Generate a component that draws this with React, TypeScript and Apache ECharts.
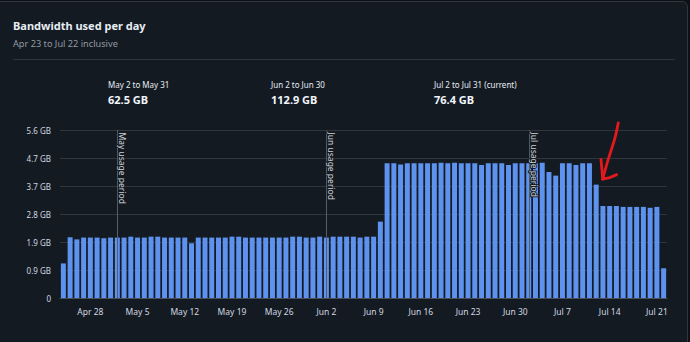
import React, { useEffect, useRef } from "react";
import * as echarts from "echarts";

// ---------- data ----------
const TITLE = "Bandwidth used per day";
const SUBTITLE = "Apr 23 to Jul 22 inclusive";
const periodLabels = ["May 2 to May 31", "Jun 2 to Jun 30", "Jul 2 to Jul 31 (current)"];
const periodTotals = ["62.5 GB", "112.9 GB", "76.4 GB"];

const MONTHS = ["Jan", "Feb", "Mar", "Apr", "May", "Jun", "Jul", "Aug", "Sep", "Oct", "Nov", "Dec"];
const firstDay = { month: 3, day: 24 }; // Apr 24 (first bar)

// daily usage, in GB as read on the y axis
const dailyGB = [
  1.15, 2.02, 1.95, 2.01, 2.01, 2.01, 1.99, 2.01, 2.01, 2.01,
  2.04, 2.01, 2.01, 2.04, 2.04, 2.01, 2.01, 2.01, 2.01, 1.82,
  2.01, 2.01, 2.01, 2.01, 2.01, 2.04, 2.04, 2.01, 2.01, 2.01,
  2.01, 2.01, 2.01, 2.01, 2.04, 2.04, 2.01, 2.01, 2.04, 2.01,
  2.04, 2.04, 2.04, 2.04, 2.01, 2.04, 2.04, 2.54, 4.48, 4.48,
  4.44, 4.48, 4.48, 4.48, 4.48, 4.48, 4.50, 4.48, 4.50, 4.48,
  4.48, 4.48, 4.42, 4.48, 4.48, 4.48, 4.42, 4.48, 4.48, 4.48,
  4.48, 4.50, 4.19, 4.07, 4.48, 4.48, 4.42, 4.48, 4.48, 3.77,
  3.06, 3.06, 3.06, 3.03, 3.03, 3.03, 3.03, 3.00, 3.03, 0.99,
];

const xTickLabels = ["Apr 28", "May 5", "May 12", "May 19", "May 26", "Jun 2", "Jun 9", "Jun 16", "Jun 23", "Jun 30", "Jul 7", "Jul 14", "Jul 21"];
const yTickLabels = ["0", "0.9 GB", "1.9 GB", "2.8 GB", "3.7 GB", "4.7 GB", "5.6 GB"];
const GB_STEP = 1e9 / Math.pow(2, 30); // one y tick step, in GB

const markerDates = ["May 2", "Jun 2", "Jul 2"];
const markerLabels = ["May usage period", "Jun usage period", "Jul usage period"];
const highlightDate = "Jul 12";

// ---------- derived ----------
const categories: string[] = dailyGB.map((_, i) => {
  const d = new Date(Date.UTC(2023, firstDay.month, firstDay.day + i));
  return MONTHS[d.getUTCMonth()] + " " + d.getUTCDate();
});

const FONT = '"Noto Sans", "DejaVu Sans", sans-serif';

export default function App() {
  const ref = useRef<HTMLDivElement>(null);

  useEffect(() => {
    if (!ref.current) return;
    const chart = echarts.init(ref.current, null, { renderer: "svg" });
    const yMax = yTickLabels.length - 1;
    const hiIdx = categories.indexOf(highlightDate);

    const statX = [108, 271, 434];
    const graphics: any[] = [
      { type: "text", x: 13, y: 25, style: { text: TITLE, fill: "#e6edf3", font: `bold 11px ${FONT}`, verticalAlign: "middle" } },
      { type: "text", x: 13, y: 43.5, style: { text: SUBTITLE, fill: "#9198a1", font: `9.2px ${FONT}`, verticalAlign: "middle" } },
      { type: "line", shape: { x1: 13, y1: 59.5, x2: 675, y2: 59.5 }, style: { stroke: "#30363d", lineWidth: 1 } },
    ];
    periodLabels.forEach((lab, i) => {
      graphics.push({ type: "text", x: statX[i], y: 84.5, style: { text: lab, fill: "#e6edf3", font: `8px ${FONT}`, verticalAlign: "middle" } });
      graphics.push({ type: "text", x: statX[i], y: 99, style: { text: periodTotals[i], fill: "#f0f6fc", font: `bold 11px ${FONT}`, verticalAlign: "middle" } });
    });

    chart.setOption({
      animation: false,
      backgroundColor: "transparent",
      textStyle: { fontFamily: FONT },
      graphic: graphics,
      grid: { left: 60, right: 23, top: 130, bottom: 44 },
      xAxis: {
        type: "category",
        data: categories,
        boundaryGap: true,
        axisLine: { lineStyle: { color: "#484f58", width: 1 } },
        axisTick: {
          alignWithLabel: true,
          length: 4,
          interval: (i: number, v: string) => xTickLabels.includes(v),
          lineStyle: { color: "#6e7681" },
        },
        axisLabel: {
          interval: (i: number, v: string) => xTickLabels.includes(v),
          color: "#d1d7e0",
          fontSize: 8.5,
          margin: 9,
          fontFamily: FONT,
        },
        splitLine: { show: false },
      },
      yAxis: {
        type: "value",
        min: 0,
        max: yMax,
        interval: 1,
        axisLine: { show: false },
        axisTick: { show: false },
        axisLabel: {
          color: "#d1d7e0",
          fontSize: 8,
          margin: 9,
          fontFamily: FONT,
          formatter: (v: number) => yTickLabels[Math.round(v)],
        },
        splitLine: { lineStyle: { color: "#30363d", width: 1 } },
      },
      series: [
        {
          type: "bar",
          data: dailyGB.map((v) => v / GB_STEP),
          barCategoryGap: "26%",
          itemStyle: { color: "#5e92ef" },
          z: 2,
        },
        {
          type: "custom",
          z: 5,
          encode: { x: 0, y: 1 },
          data: markerDates.map((d) => [categories.indexOf(d), 0]),
          renderItem: (params: any, api: any) => {
            const i = api.value(0);
            const b = api.coord([i, 0]);
            const t = api.coord([i, yMax]);
            const x = Math.round(b[0]) + 0.5;
            return {
              type: "group",
              children: [
                { type: "line", shape: { x1: x, y1: t[1], x2: x, y2: b[1] }, style: { stroke: "#545d68", lineWidth: 1 } },
                {
                  type: "text",
                  x: x + 0.5,
                  y: t[1] + 2.5,
                  rotation: -Math.PI / 2,
                  style: {
                    text: markerLabels[params.dataIndex],
                    fill: "#c9d1d9",
                    stroke: "#161b22",
                    lineWidth: 2,
                    font: `8.5px ${FONT}`,
                    align: "left",
                    verticalAlign: "bottom",
                  },
                },
              ],
            };
          },
        },
        {
          type: "custom",
          z: 6,
          encode: { x: 0, y: 1 },
          data: [[hiIdx, dailyGB[hiIdx] / GB_STEP]],
          renderItem: (params: any, api: any) => {
            const p = api.coord([api.value(0), api.value(1)]);
            const tx = p[0] + 6.5;
            const ty = p[1] - 5.5;
            const red = "#e3191a";
            return {
              type: "group",
              children: [
                {
                  type: "polyline",
                  shape: { points: [[tx + 15.6, ty - 56.3], [tx + 12.5, ty - 42], [tx + 9.8, ty - 33], [tx + 5, ty - 18], [tx, ty]], smooth: 0.3 },
                  style: { stroke: red, lineWidth: 2.8, fill: "none", lineCap: "round", lineJoin: "round" },
                },
                {
                  type: "polyline",
                  shape: { points: [[tx - 1.7, ty - 19.7], [tx - 0.6, ty - 8], [tx, ty], [tx + 7, ty - 1.5], [tx + 14, ty - 4.5]] },
                  style: { stroke: red, lineWidth: 2.8, fill: "none", lineCap: "round", lineJoin: "round" },
                },
              ],
            };
          },
        },
      ],
    });
    return () => chart.dispose();
  }, []);

  return (
    <div style={{ position: "fixed", left: 0, top: 0, width: 690, height: 342, background: "#0d1117", overflow: "hidden" }}>
      <div
        style={{
          position: "absolute",
          left: -10,
          top: 1,
          width: 698,
          height: 360,
          boxSizing: "border-box",
          background: "#141a22",
          border: "1px solid #30363d",
          borderRadius: 6,
        }}
      />
      <div ref={ref} style={{ position: "absolute", left: 0, top: 0, width: 690, height: 342 }} />
    </div>
  );
}
